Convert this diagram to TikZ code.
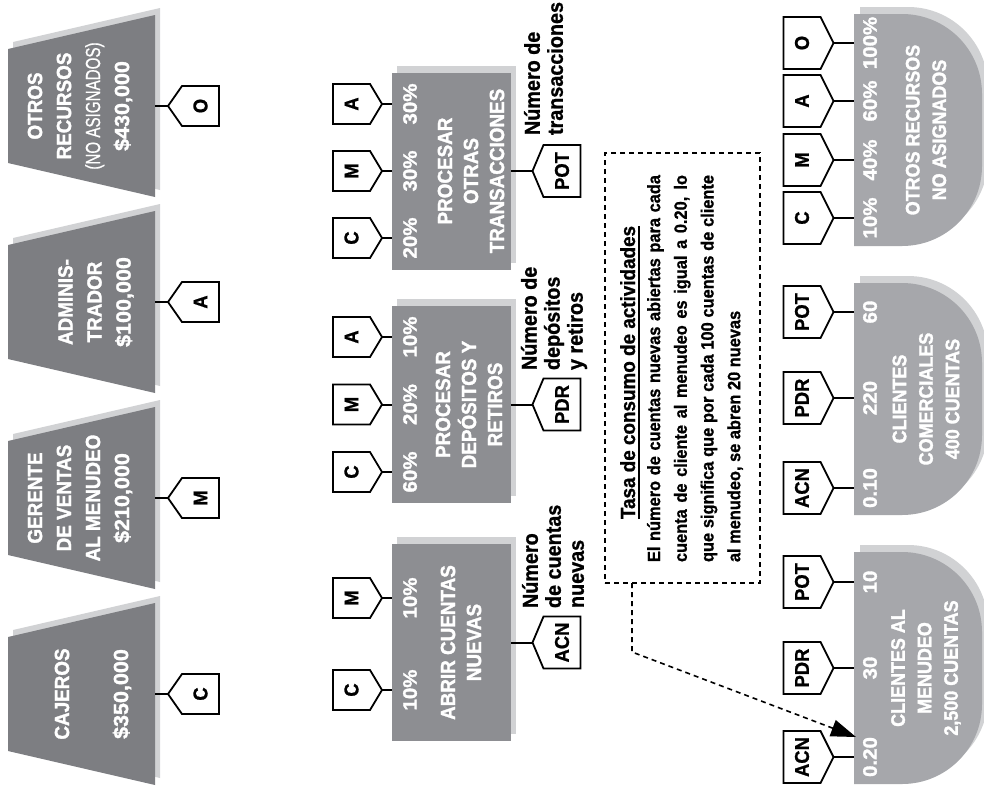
\documentclass[tikz,border=0pt]{standalone}
\usepackage{fontspec}
\usepackage{graphicx}
\usetikzlibrary{calc,arrows.meta}
\newfontfamily\cf{Liberation Sans}[FakeStretch=0.92,BoldFeatures={FakeBold=1.0}]
\newfontfamily\cfh{Liberation Sans}[FakeStretch=0.92,BoldFeatures={FakeBold=1.6}]
\newfontfamily\cfw{Liberation Sans}[FakeStretch=1.05,BoldFeatures={FakeBold=1.6}]
\newfontfamily\cfn{Liberation Sans}[FakeStretch=0.74,FakeBold=0.7]
\definecolor{resgray}{RGB}{125,126,130}
\definecolor{actgray}{RGB}{141,142,146}
\definecolor{cogray}{RGB}{166,167,171}
\definecolor{shgray}{RGB}{209,210,212}
\newcommand\thickul[1]{\vtop{\hbox{#1}\kern2.5pt\hrule height 1.8pt}}
\newcommand\trapfill[2]{\fill[#1] (8,#2-57) -- (155,#2-91) -- (155,#2+91) -- (8,#2+57) -- cycle;}
\newcommand\Dfill[2]{\fill[#1] (854,#2) -- (902,#2) .. controls (946.2,#2) and (982,#2+35.8) .. (982,#2+80) -- (982,#2+152) .. controls (982,#2+196.2) and (946.2,#2+232) .. (902,#2+232) -- (854,#2+232) -- cycle;}
\newcommand\tagL[6]{%
  \node[tagbody,minimum height=#5pt] (#1) at (#2,#3) {\rotatebox{90}{#4}};
  \coordinate (#1-tip) at ($(#1.west)+(-#6,0)$);
  \draw[tagline] (#1.north west) -- (#1.north east) -- (#1.south east) -- (#1.south west) -- (#1-tip) -- cycle;}
\newcommand\tagR[6]{%
  \node[tagbody,minimum height=#5pt] (#1) at (#2,#3) {\rotatebox{90}{#4}};
  \coordinate (#1-tip) at ($(#1.east)+(#6,0)$);
  \draw[tagline] (#1.north east) -- (#1.north west) -- (#1.south west) -- (#1.south east) -- (#1-tip) -- cycle;}
\begin{document}
\begin{tikzpicture}[x=1pt,y=-1pt,
 bbox/.style={inner sep=0pt,outer sep=0pt},
 tagbody/.style={inner sep=0pt,outer sep=0pt,minimum width=37pt,font=\cf\bfseries\fontsize{20}{24}\selectfont},
 tagline/.style={draw=black,line width=1.8pt,line join=miter},
 conn/.style={draw=black,line width=2pt},
 wtext/.style={rotate=90,text=white,inner sep=0pt,outer sep=0pt,align=center},
 restext/.style={wtext,font=\cfh\bfseries\fontsize{20.5}{29}\selectfont},
 acttext/.style={wtext,font=\cfh\bfseries\fontsize{20.5}{26}\selectfont},
 pct/.style={wtext,font=\cfw\bfseries\fontsize{19.5}{22}\selectfont},
 cotext/.style={wtext,font=\cfh\bfseries\fontsize{19.5}{26.5}\selectfont},
 lbl/.style={rotate=90,inner sep=0pt,outer sep=0pt,align=left,anchor=west,font=\cf\bfseries\fontsize{21.5}{23}\selectfont},
 notebox/.style={draw=black,line width=1.6pt,dash pattern=on 5pt off 4pt},
]
\useasboundingbox (0,0) rectangle (984,785);
\clip (0,0) rectangle (984,785);

% ---------- resources ----------
\node[bbox,minimum width=147pt,minimum height=182pt] (resO) at (81.5,106) {};
\node[bbox,minimum width=147pt,minimum height=182pt] (resA) at (81.5,302) {};
\node[bbox,minimum width=147pt,minimum height=182pt] (resM) at (81.5,498) {};
\node[bbox,minimum width=147pt,minimum height=182pt] (resC) at (81.5,694) {};
\foreach \yy in {106,302,498,694}{\trapfill{shgray,shift={(5,-7)}}{\yy}\trapfill{resgray}{\yy}}
\node[restext] (resOt) at (80,106) {OTROS\\RECURSOS\\{\cfn\mdseries (NO ASIGNADOS)}\\{\cfw\$430,000}};
\node[restext] (resAt) at (96,302) {ADMINIS-\\TRADOR\\{\cfw\$100,000}};
\node[restext] (resMt) at (80,498) {GERENTE\\DE VENTAS\\AL MENUDEO\\{\cfw\$210,000}};
\node[restext] (resCt) at (93,694) {CAJEROS\\[30pt]{\cfw\$350,000}};

\tagL{tO}{200.5}{106}{O}{40}{14}
\tagL{tA}{200.5}{302}{A}{40}{14}
\tagL{tM}{200.5}{498}{M}{40}{14}
\tagL{tC}{200.5}{694}{C}{40}{14}
\draw[conn] (resO.east) -- (tO-tip);
\draw[conn] (resA.east) -- (tA-tip);
\draw[conn] (resM.east) -- (tM-tip);
\draw[conn] (resC.east) -- (tC-tip);

% ---------- activities ----------
\node[bbox,minimum width=119pt,minimum height=197pt] (actPOT) at (451.5,171) {};
\node[bbox,minimum width=119pt,minimum height=197pt] (actPDR) at (451.5,404.5) {};
\node[bbox,minimum width=119pt,minimum height=197pt] (actACN) at (451.5,642.5) {};
\foreach \n in {actPOT,actPDR,actACN}{%
  \fill[shgray] ($(\n.south west)+(5,-7)$) rectangle ($(\n.north east)+(5,-7)$);
  \fill[actgray] (\n.south west) rectangle (\n.north east);}
\node[acttext] (actPOTt) at (471,171) {PROCESAR\\OTRAS\\TRANSACCIONES};
\node[acttext] (actPDRt) at (469,404.5) {PROCESAR\\DEPÓSITOS Y\\RETIROS};
\node[acttext] (actACNt) at (461,642.5) {ABRIR CUENTAS\\NUEVAS};
\node[pct] (pPOTC) at (410,238) {20\%};
\node[pct] (pPOTM) at (410,171) {30\%};
\node[pct] (pPOTA) at (410,104) {30\%};
\node[pct] (pPDRC) at (410,472) {60\%};
\node[pct] (pPDRM) at (410,404.5) {20\%};
\node[pct] (pPDRA) at (410,337) {10\%};
\node[pct] (pACNC) at (410,690) {10\%};
\node[pct] (pACNM) at (410,598) {10\%};

\tagR{iPOTC}{351.5}{238}{C}{40}{12}
\tagR{iPOTM}{351.5}{171}{M}{40}{12}
\tagR{iPOTA}{351.5}{104}{A}{40}{12}
\tagR{iPDRC}{351.5}{472}{C}{40}{12}
\tagR{iPDRM}{351.5}{404.5}{M}{40}{12}
\tagR{iPDRA}{351.5}{337}{A}{40}{12}
\tagR{iACNC}{351.5}{690}{C}{40}{12}
\tagR{iACNM}{351.5}{598}{M}{40}{12}
\draw[conn] (iPOTC-tip) -- (actPOT.west |- iPOTC-tip);
\draw[conn] (iPOTM-tip) -- (actPOT.west |- iPOTM-tip);
\draw[conn] (iPOTA-tip) -- (actPOT.west |- iPOTA-tip);
\draw[conn] (iPDRC-tip) -- (actPDR.west |- iPDRC-tip);
\draw[conn] (iPDRM-tip) -- (actPDR.west |- iPDRM-tip);
\draw[conn] (iPDRA-tip) -- (actPDR.west |- iPDRA-tip);
\draw[conn] (iACNC-tip) -- (actACN.west |- iACNC-tip);
\draw[conn] (iACNM-tip) -- (actACN.west |- iACNM-tip);

\tagL{oPOT}{562}{171}{POT}{52}{11}
\tagL{oPDR}{562}{404.5}{PDR}{52}{11}
\tagL{oACN}{562}{642.5}{ACN}{52}{11}
\draw[conn] (actPOT.east) -- (oPOT-tip);
\draw[conn] (actPDR.east) -- (oPDR-tip);
\draw[conn] (actACN.east) -- (oACN-tip);
\node[lbl] (lPOT) at (543.5,135) {Número de\\transacciones};
\node[lbl] (lPDR) at (554,370) {Número de\\depósitos\\y retiros};
\node[lbl] (lACN) at (553,608) {Número\\de cuentas\\nuevas};

% ---------- note ----------
\node[bbox,notebox,minimum width=155pt,minimum height=430pt] (note) at (682.5,368) {};
\node[rotate=90,anchor=base,inner sep=0pt,font=\cf\bfseries\fontsize{20.5}{24}\selectfont] (noteTitle) at (635,372.5) {\thickul{Tasa de consumo de actividades}};
\node[rotate=90,inner sep=0pt,text width=387pt,align=justify,font=\cf\bfseries\fontsize{17.8}{26.7}\selectfont] (noteBody) at (695,368.5) {El número de cuentas nuevas abiertas para cada\linebreak cuenta de cliente al menudeo es igual a 0.20, lo\linebreak que significa que por cada 100 cuentas de cliente\linebreak al menudeo, se abren 20 nuevas};

% ---------- cost objects ----------
\node[bbox,minimum width=128pt,minimum height=232pt] (coOtros) at (918,130) {};
\node[bbox,minimum width=128pt,minimum height=232pt] (coCom) at (918,399) {};
\node[bbox,minimum width=128pt,minimum height=232pt] (coMen) at (918,668) {};
\foreach \yy in {14,283,552}{\Dfill{shgray,shift={(6,-7)}}{\yy}\Dfill{cogray}{\yy}}
\node[cotext] (coOtrosT) at (926,130) {OTROS RECURSOS\\NO ASIGNADOS};
\node[cotext] (coComT) at (926,399) {CLIENTES\\COMERCIALES\\400 CUENTAS};
\node[cotext] (coMenT) at (926,668) {CLIENTES AL\\MENUDEO\\2,500 CUENTAS};
\node[pct] (nOtO) at (870,43) {100\%};
\node[pct] (nOtA) at (870,101) {60\%};
\node[pct] (nOtM) at (870,160) {40\%};
\node[pct] (nOtC) at (870,218) {10\%};
\node[pct] (nCoPOT) at (870,312) {60};
\node[pct] (nCoPDR) at (870,398) {220};
\node[pct] (nCoACN) at (870,488) {0.10};
\node[pct] (nMePOT) at (870,582) {10};
\node[pct] (nMePDR) at (870,668) {30};
\node[pct] (nMeACN) at (870,757) {0.20};

\tagR{cOtO}{802}{43}{O}{52}{13}
\tagR{cOtA}{802}{101}{A}{52}{13}
\tagR{cOtM}{802}{160}{M}{52}{13}
\tagR{cOtC}{802}{218}{C}{52}{13}
\tagR{cCoPOT}{802}{312}{POT}{52}{13}
\tagR{cCoPDR}{802}{398}{PDR}{52}{13}
\tagR{cCoACN}{802}{488}{ACN}{52}{13}
\tagR{cMePOT}{802}{582}{POT}{52}{13}
\tagR{cMePDR}{802}{668}{PDR}{52}{13}
\tagR{cMeACN}{802}{757}{ACN}{52}{13}
\foreach \t in {cOtO,cOtA,cOtM,cOtC}{\draw[conn] (\t-tip) -- (coOtros.west |- \t-tip);}
\foreach \t in {cCoPOT,cCoPDR,cCoACN}{\draw[conn] (\t-tip) -- (coCom.west |- \t-tip);}
\foreach \t in {cMePOT,cMePDR,cMeACN}{\draw[conn] (\t-tip) -- (coMen.west |- \t-tip);}

% ---------- dashed arrow ----------
\coordinate (arrStart) at ($(note.south west)+(27,0)$);
\coordinate (arrBend) at (632,652);
\coordinate (arrEnd) at (856,737);
\draw[notebox,-{Triangle[length=25pt,width=17pt]}] (arrStart) -- (arrBend) -- (arrEnd);
\end{tikzpicture}
\end{document}
